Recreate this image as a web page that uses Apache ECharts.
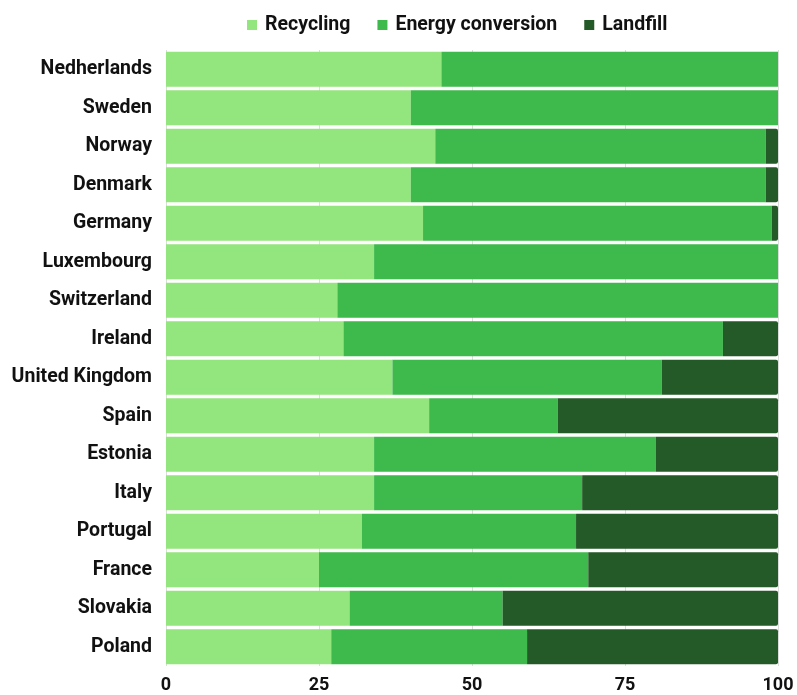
<!DOCTYPE html>
<html>
<head>
<meta charset="utf-8">
<script src="https://cdn.jsdelivr.net/npm/echarts@6/dist/echarts.min.js"></script>
<style>
	html, body { margin: 0; padding: 0; background: #fff; }
	#chart { width: 797px; height: 695px; }
</style>
</head>
<body>
<div id="chart"></div>
<script>
// waste treatment share per country (%)
const countries = ['Nedherlands', 'Sweden', 'Norway', 'Denmark', 'Germany', 'Luxembourg', 'Switzerland', 'Ireland',
	'United Kingdom', 'Spain', 'Estonia', 'Italy', 'Portugal', 'France', 'Slovakia', 'Poland'];
const recycling = [45, 40, 44, 40, 42, 34, 28, 29, 37, 43, 34, 34, 32, 25, 30, 27];
const energyConversion = [55, 60, 54, 58, 57, 66, 72, 62, 44, 21, 46, 34, 35, 44, 25, 32];
const landfill = [0, 0, 2, 2, 1, 0, 0, 9, 19, 36, 20, 32, 33, 31, 45, 41];
const xTicks = [0, 25, 50, 75, 100];

const colors = ['#93e57d', '#3dba4b', '#245a27'];
const font = 'Roboto, "Noto Sans", sans-serif';

const chart = echarts.init(document.getElementById('chart'));

const mkSeries = (name, data, color, last) => ({
	name,
	type: 'bar',
	stack: 'total',
	data,
	barCategoryGap: '9%',
	itemStyle: {
		color,
		borderRadius: last ? [0, 2, 2, 0] : 0,
	},
});

chart.setOption({
	animation: false,
	color: colors,
	legend: {
		top: 10,
		left: 242,
		itemWidth: 10,
		itemHeight: 10,
		itemGap: 27,
		icon: 'rect',
		textStyle: {
			fontFamily: font,
			fontSize: 19.5,
			fontWeight: 'bold',
			color: '#111',
			padding: [0, 0, 0, 3],
		},
		data: ['Recycling', 'Energy conversion', 'Landfill'],
	},
	grid: { left: 166, right: 19, top: 50, bottom: 29 },
	xAxis: {
		type: 'value',
		min: xTicks[0],
		max: xTicks[xTicks.length - 1],
		interval: 25,
		axisLine: { show: false },
		axisTick: { show: false },
		splitLine: { show: true, lineStyle: { color: '#dcdcdc' } },
		axisLabel: {
			margin: 10,
			fontFamily: font,
			fontSize: 18,
			fontWeight: 'bold',
			color: '#111',
		},
	},
	yAxis: {
		type: 'category',
		inverse: true,
		data: countries,
		axisLine: { show: false },
		axisTick: { show: false },
		axisLabel: {
			margin: 14,
			fontFamily: font,
			fontSize: 19.5,
			fontWeight: 'bold',
			color: '#111',
		},
	},
	series: [
		mkSeries('Recycling', recycling, colors[0], false),
		mkSeries('Energy conversion', energyConversion, colors[1], false),
		mkSeries('Landfill', landfill, colors[2], true),
	],
});
</script>
</body>
</html>
